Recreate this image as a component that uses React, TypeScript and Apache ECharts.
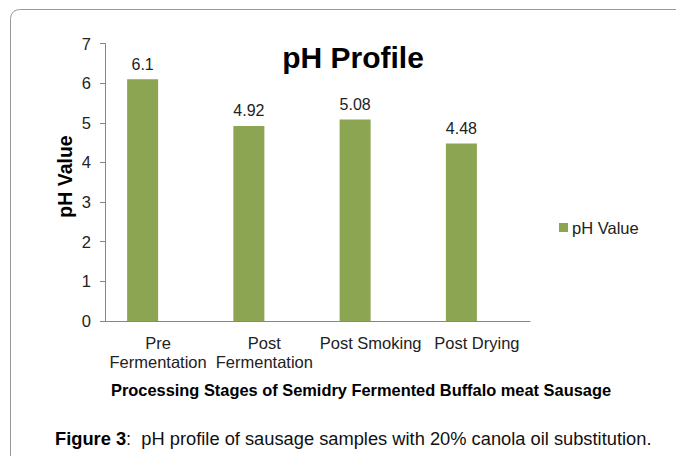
import React, { useEffect, useRef } from "react";
import * as echarts from "echarts";

const categories = ["Pre\nFermentation", "Post\nFermentation", "Post Smoking", "Post Drying"];
const phValues = [6.1, 4.92, 5.08, 4.48];
const emptySeries: number[] = [];
const seriesName = "pH Value";
const yTitle = "pH Value";
const xTitle = "Processing Stages of Semidry Fermented Buffalo meat Sausage";
const chartTitle = "pH Profile";
const captionBold = "Figure 3";
const captionRest = ":  pH profile of sausage samples with 20% canola oil substitution.";

export default function App() {
  const ref = useRef<HTMLDivElement>(null);
  useEffect(() => {
    if (!ref.current) return;
    const chart = echarts.init(ref.current, null, { renderer: "svg" });
    const font = "Liberation Sans, Arial, sans-serif";
    chart.setOption({
      animation: false,
      textStyle: { fontFamily: font },
      title: {
        text: chartTitle,
        left: 348,
        top: 37,
        textAlign: "center",
        textStyle: { fontSize: 30, fontWeight: "bold", color: "#000", fontFamily: font },
      },
      legend: {
        left: 554,
        top: 214,
        orient: "vertical",
        icon: "rect",
        itemWidth: 9,
        itemHeight: 9,
        itemGap: 4,
        textStyle: { fontSize: 16.5, color: "#222", fontFamily: font, padding: [0, 0, 0, -1] },
        data: [seriesName],
      },
      grid: { left: 105, top: 43.5, width: 425, height: 277.5 },
      xAxis: {
        type: "category",
        data: categories,
        axisLine: { lineStyle: { color: "#868686" } },
        axisTick: { length: 5, lineStyle: { color: "#868686" } },
        axisLabel: { fontSize: 16.5, color: "#222", margin: 12, lineHeight: 19, interval: 0, fontFamily: font },
      },
      yAxis: {
        type: "value",
        min: 0,
        max: 7,
        interval: 1,
        axisLine: { show: true, lineStyle: { color: "#868686" } },
        axisTick: { show: true, length: 5, lineStyle: { color: "#868686" } },
        splitLine: { show: false },
        axisLabel: { fontSize: 16.5, color: "#222", margin: 14, fontFamily: font },
      },
      series: [
        {
          name: seriesName,
          type: "bar",
          data: phValues,
          barWidth: 31,
          barGap: "0%",
          itemStyle: { color: "#8BA552" },
          label: {
            show: true,
            position: "top",
            distance: 7,
            fontSize: 16,
            color: "#222",
            fontFamily: font,
          },
        },
        {
          name: "_spacer",
          type: "bar",
          data: emptySeries,
          barWidth: 31,
          barGap: "0%",
          itemStyle: { color: "transparent" },
        },
      ],
      graphic: [
        {
          type: "rect",
          shape: { x: 10.5, y: 9.5, width: 720, height: 520, r: 9 },
          style: { fill: "none", stroke: "#999", lineWidth: 1 },
          silent: true,
        },
        {
          type: "text",
          x: 65,
          y: 176.5,
          rotation: Math.PI / 2,
          style: {
            text: yTitle,
            fontSize: 19.5,
            fontWeight: "bold",
            fill: "#000",
            fontFamily: font,
            align: "center",
            verticalAlign: "middle",
          },
        },
        {
          type: "text",
          x: 361,
          y: 390,
          style: {
            text: xTitle,
            fontSize: 16.4,
            fontWeight: "bold",
            fill: "#000",
            fontFamily: font,
            align: "center",
            verticalAlign: "middle",
          },
        },
        {
          type: "text",
          x: 55,
          y: 438,
          style: {
            text: "{b|" + captionBold + "}" + captionRest,
            rich: {
              b: { fontWeight: "bold", fontSize: 18.3, fill: "#000", fontFamily: font },
            },
            fontSize: 18.3,
            fill: "#111",
            fontFamily: font,
            verticalAlign: "middle",
          },
        },
      ],
    });
    return () => chart.dispose();
  }, []);
  return <div ref={ref} style={{ width: 676, height: 456, position: "absolute", left: 0, top: 0 }} />;
}
